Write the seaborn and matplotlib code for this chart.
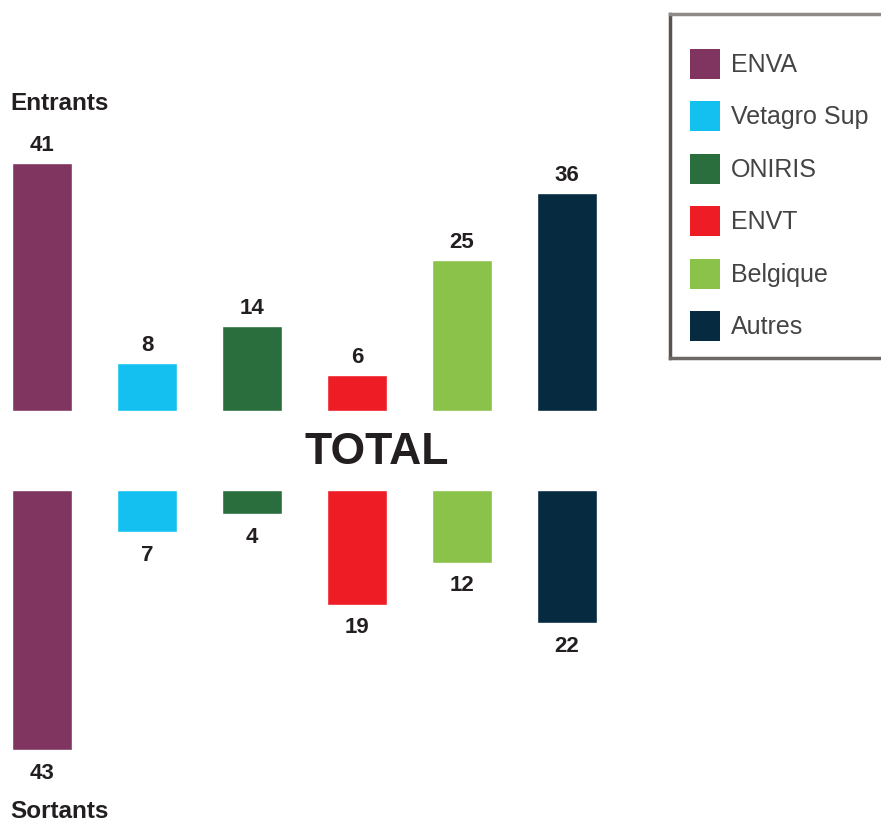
import matplotlib
matplotlib.use("Agg")
import matplotlib.pyplot as plt
import seaborn as sns
import pandas as pd
from matplotlib.patches import Rectangle

schools = ["ENVA", "Vetagro Sup", "ONIRIS", "ENVT", "Belgique", "Autres"]
entrants = [41, 8, 14, 6, 25, 36]
sortants = [43, 7, 4, 19, 12, 22]
colors = ["#7F3560", "#14C0F0", "#2A6E3E", "#EE1C25", "#8BC34A", "#062A40"]

sns.set_theme(style="white")
plt.rcParams["font.family"] = ["Liberation Sans", "DejaVu Sans"]

df = pd.DataFrame({"school": schools, "entrants": entrants, "sortants": sortants})
palette = dict(zip(schools, colors))

W, H = 881, 823
fig = plt.figure(figsize=(W / 100, H / 100), dpi=100)

px_per_unit = 6.05
ymax = 45
ax_h = ymax * px_per_unit
dark = "#231F20"

# top axes: baseline at y=411 px from top
ax_top = fig.add_axes([0, (H - 411) / H, 1, ax_h / H])
# bottom axes: starts at y=490 px from top, grows downward
ax_bot = fig.add_axes([0, (H - 490 - ax_h) / H, 1, ax_h / H])

for ax, col, up in [(ax_top, "entrants", True), (ax_bot, "sortants", False)]:
    sns.barplot(data=df, x="school", y=col, hue="school", palette=palette,
                legend=False, width=0.58, saturation=1, ax=ax)
    ax.set_xlim(-0.4, -0.4 + W / 105)
    if up:
        ax.set_ylim(0, ymax)
    else:
        ax.set_ylim(ymax, 0)
    for i, v in enumerate(df[col]):
        ax.annotate(str(v), (i, v), xytext=(0, 5 if up else -9),
                    textcoords="offset points", ha="center",
                    va="bottom" if up else "top",
                    fontsize=16, fontweight="bold", color=dark)
    ax.set_axis_off()

fig.text(10 / W, 1 - 104 / H, "Entrants", ha="left", va="center",
         fontsize=17.5, fontweight="bold", color=dark)
fig.text(10 / W, 1 - 812 / H, "Sortants", ha="left", va="center",
         fontsize=17.5, fontweight="bold", color=dark)
fig.text(377 / W, 1 - 453 / H, "TOTAL", ha="center", va="center",
         fontsize=32, fontweight="bold", color=dark)

# legend box drawn in its own axes (pixel coordinates), cut off at the right edge
box_l, box_t, box_b, box_r = 670, 14, 358, 900
ax_leg = fig.add_axes([box_l / W, (H - box_b) / H, (box_r - box_l) / W, (box_b - box_t) / H])
ax_leg.set_xlim(0, box_r - box_l)
ax_leg.set_ylim(box_b - box_t, 0)
ax_leg.set_xticks([])
ax_leg.set_yticks([])
for side, sp in ax_leg.spines.items():
    sp.set_visible(True)
    sp.set_linewidth(2.5)
    sp.set_color("#5A5450")
ax_leg.spines["top"].set_color("#8F8A86")
ax_leg.spines["bottom"].set_color("#6E6864")

row0, row_gap, sq = 50, 52.4, 30
for k, (name, c) in enumerate(zip(schools, colors)):
    yc = row0 + k * row_gap
    ax_leg.add_patch(Rectangle((20, yc - sq / 2), sq, sq, facecolor=c, edgecolor="none"))
    ax_leg.text(61, yc + 1, name, ha="left", va="center", fontsize=18, color="#444444")

fig.savefig("out.png", dpi=100)
